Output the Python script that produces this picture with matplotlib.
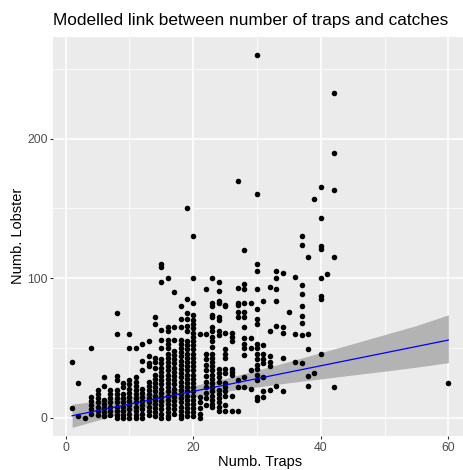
import numpy as np
import matplotlib.pyplot as plt

# Number of traps (x) and how many catches were recorded at each trap count
trap_values = [1, 2, 3, 4, 5, 6, 7, 8, 9, 10, 11, 12, 13, 14, 15, 16, 17, 18, 19, 20,
               21, 22, 23, 24, 25, 26, 27, 28, 29, 30, 31, 32, 33, 34, 35, 36, 37, 38,
               39, 40, 41, 42, 60]

# Lobster counts, one row per trap value above
lobster_rows = [
    [40, 7],
    [25, 1],
    [0],
    [50, 15, 12, 9, 6, 3],
    [20, 17, 14, 11, 8, 5, 2],
    [29, 23, 13, 10, 7, 4, 1],
    [20, 17, 14, 11, 8, 5, 2],
    [75, 60, 30, 27, 20, 17, 14, 11, 8, 5, 2, 0],
    [25, 22, 17, 14, 11, 8, 5, 2, 0],
    [60, 50, 27, 24, 21, 18, 15, 12, 9, 6, 3, 0],
    [50, 29, 26, 23, 20, 17, 14, 11, 8, 5, 2, 0],
    [53, 41, 34, 21, 18, 15, 12, 9, 6, 3, 0],
    [55, 44, 39, 37, 26, 23, 20, 17, 14, 11, 8, 5, 2],
    [72, 67, 43, 40, 36, 31, 28, 25, 22, 19, 16, 13, 10, 7, 4, 1],
    [110, 108, 97, 63, 56, 50, 42, 39, 36, 33, 30, 27, 24, 21, 18, 15, 12, 9, 6, 3, 0],
    [100, 65, 62, 56, 53, 50, 46, 43, 40, 37, 34, 31, 28, 25, 22, 19, 16, 13, 10, 7, 4, 1, 0],
    [90, 65, 56, 48, 45, 42, 39, 36, 33, 30, 27, 24, 21, 18, 15, 12, 9, 6, 3],
    [80, 71, 65, 56, 53, 50, 47, 44, 41, 38, 35, 32, 29, 26, 23, 20, 17, 14, 11, 8, 5, 2, 0],
    [150, 85, 75, 71, 66, 62, 55, 52, 49, 46, 43, 40, 37, 34, 31, 28, 25, 22, 19, 16, 13, 10, 7, 4, 1],
    [130, 100, 82, 74, 70, 67, 64, 61, 58, 55, 52, 49, 46, 43, 40, 37, 34, 31, 28, 25, 22, 19, 16, 13, 10, 7, 4, 1],
    [60, 15, 11, 7, 3, 0],
    [92, 60, 46, 42, 38, 34, 30, 26, 22, 18, 14, 9],
    [100, 82, 80, 74, 72, 65, 62, 58, 55, 51, 46, 43, 40, 37, 34, 31, 28, 25, 22, 19, 16, 13, 10, 8],
    [97, 91, 84, 82, 72, 70, 62, 59, 35, 32, 29, 26, 20, 17, 14, 11, 8, 5],
    [81, 80, 61, 49, 46, 43, 35, 32, 25, 22, 19, 16, 9, 5],
    [61, 58, 55, 35, 33, 31, 16, 5],
    [170, 93, 82, 81, 76, 72, 27, 22, 5],
    [120, 96, 92, 82, 76, 72, 65, 57, 53, 50, 45, 29, 22],
    [82, 57, 50, 34, 21],
    [260, 160, 110, 105, 92, 78, 71, 67, 53, 50, 46, 42, 38, 35, 31, 27, 15, 13],
    [84, 52, 46, 42, 39, 29, 19, 15],
    [94, 62, 44, 40, 37, 20],
    [105, 100, 92, 84, 66, 23],
    [104, 65, 61, 43, 19],
    [76],
    [101, 60, 40],
    [130, 124, 95, 89, 80, 73, 68, 59, 39],
    [115, 60, 49, 30, 23],
    [157, 32],
    [165, 143, 123, 121, 100, 87, 85, 46],
    [103],
    [233, 190, 163, 115, 22],
    [25],
]

# fitted lm line and its 95% band
fit_traps = [1, 5, 10, 15, 20, 25, 30, 35, 40, 45, 50, 55, 60]
fit_mean = [1.5, 5.2, 9.8, 14.4, 19.0, 23.5, 28.1, 32.7, 37.3, 41.9, 46.5, 51.1, 55.7]
fit_low = [-6.8, -1.7, 4.4, 10.1, 15.0, 18.9, 22.1, 25.1, 27.9, 30.7, 33.4, 36.3, 39.5]
fit_high = [9.8, 12.1, 15.2, 18.7, 23.0, 28.2, 34.1, 40.3, 46.7, 53.1, 59.6, 66.1, 73.8]

traps = np.concatenate([[t] * len(r) for t, r in zip(trap_values, lobster_rows)])
lobsters = np.concatenate(lobster_rows)

W, H = 464, 470
fig = plt.figure(figsize=(W / 100, H / 100), dpi=100)
plt.rcParams['font.family'] = ['Liberation Sans', 'DejaVu Sans']

left, right, top, bottom = 53.3, 467.1, 36.7, 436.0
ax = fig.add_axes([left / W, 1 - bottom / H, (right - left) / W, (bottom - top) / H])
ax.set_facecolor('#EBEBEB')
for sp in ax.spines.values():
    sp.set_visible(False)

# band under the points, line on top
ax.fill_between(fit_traps, fit_low, fit_high, color='#B3B3B3', linewidth=0, zorder=2)
ax.scatter(traps, lobsters, s=16, color='black', linewidths=0, zorder=3)
ax.plot(fit_traps, fit_mean, color='#0000FF', linewidth=0.9, zorder=5)

ax.set_xlim(-1.95, 62.95)
ax.set_ylim(-13, 273)
ax.set_xticks([0, 20, 40, 60])
ax.set_xticks([10, 30, 50], minor=True)
ax.set_yticks([0, 100, 200])
ax.set_yticks([50, 150, 250], minor=True)
ax.grid(which='major', color='white', linewidth=1.1, zorder=0)
ax.grid(which='minor', color='white', linewidth=0.55, zorder=0)
ax.set_axisbelow(True)
ax.tick_params(which='major', length=2.5, width=0.8, color='#333333',
               labelcolor='#4D4D4D', labelsize=8.8, pad=1.5)
ax.tick_params(which='minor', length=0)

fig.text(left / W, 1 - 20 / H, 'Modelled link between number of traps and catches',
         fontsize=12.4, color='black', ha='left', va='center')
fig.text((left + right) / 2 / W, 1 - 462 / H, 'Numb. Traps',
         fontsize=10.5, color='black', ha='center', va='center')
fig.text(18 / W, 1 - (top + bottom) / 2 / H, 'Numb. Lobster', rotation=90,
         fontsize=10.5, color='black', ha='center', va='center')

fig.savefig('out.png', dpi=100)
